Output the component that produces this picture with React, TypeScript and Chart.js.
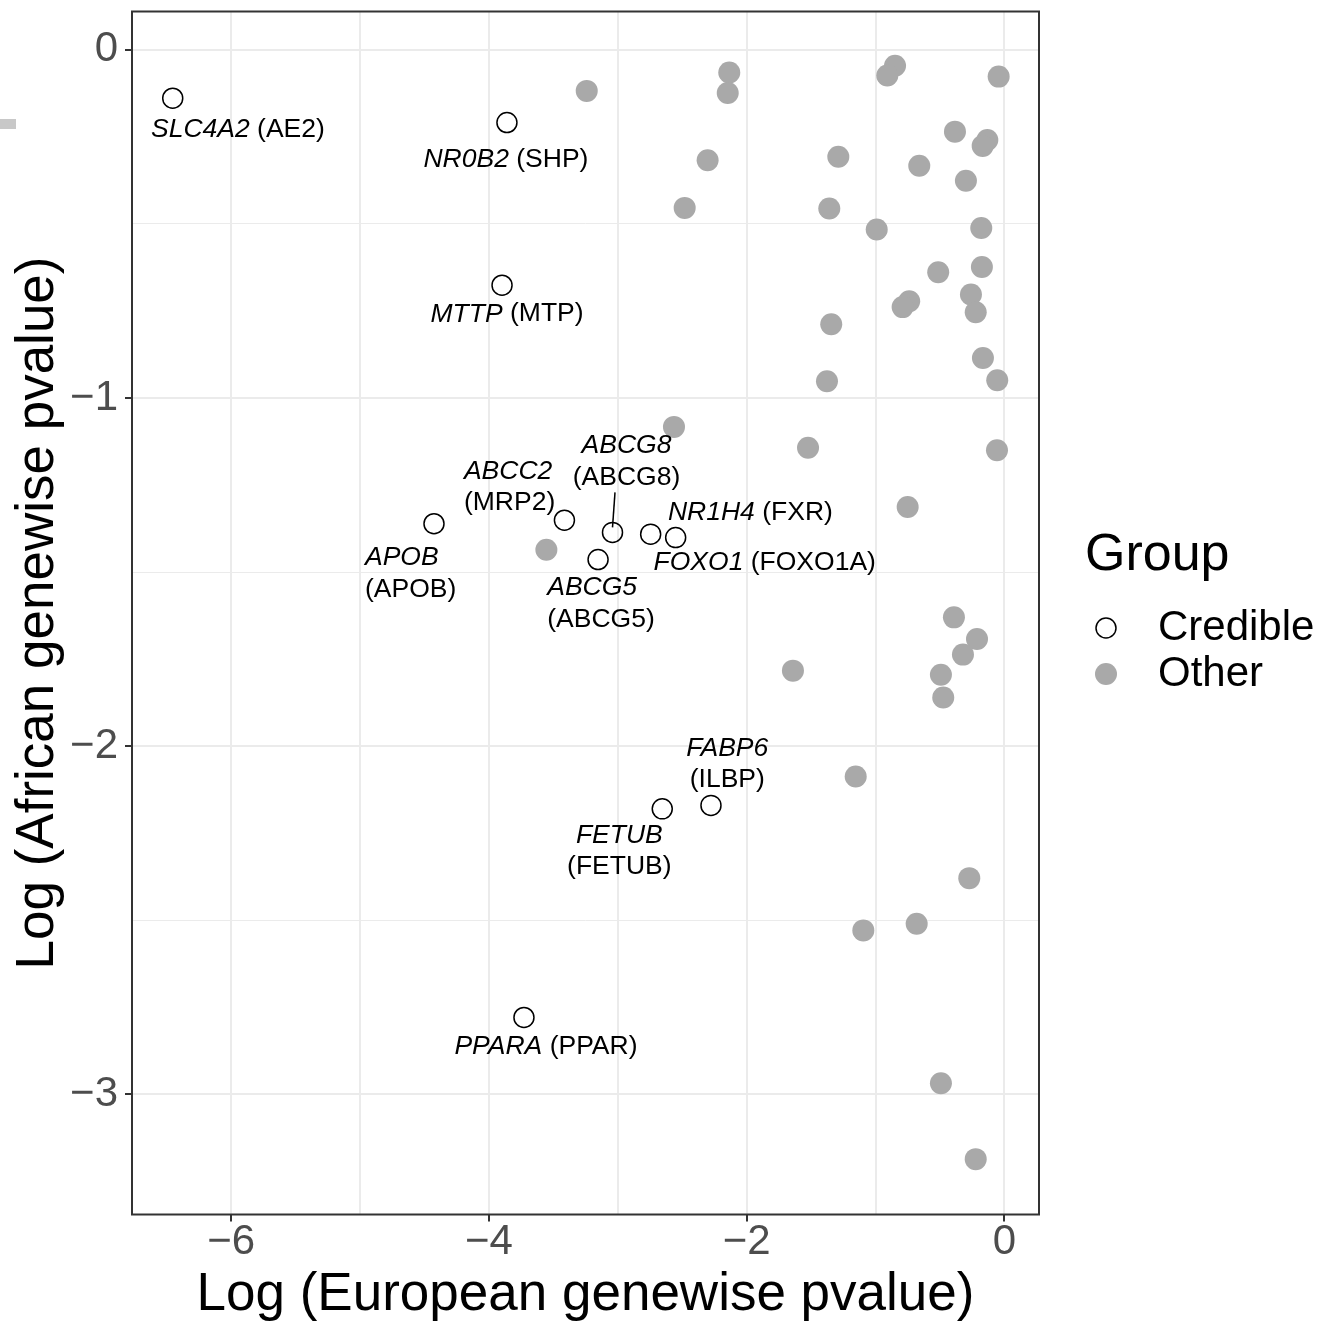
import React, { useEffect, useRef } from "react";
import { Chart, registerables } from "chart.js";

Chart.register(...registerables);

// ---------- data ----------
const credibleGenes = ["SLC4A2", "NR0B2", "MTTP", "APOB", "ABCC2", "ABCG8", "ABCG5", "FOXO1", "NR1H4", "FABP6", "FETUB", "PPARA"];
const credibleProteins = ["AE2", "SHP", "MTP", "APOB", "MRP2", "ABCG8", "ABCG5", "FOXO1A", "FXR", "ILBP", "FETUB", "PPAR"];
const credibleEuropean = [-6.453, -3.86, -3.898, -4.426, -3.414, -3.041, -3.153, -2.745, -2.551, -2.277, -2.655, -3.728];
const credibleAfrican = [-0.139, -0.209, -0.676, -1.361, -1.351, -1.386, -1.464, -1.391, -1.401, -2.17, -2.18, -2.779];

const otherEuropean = [
  -3.241, -2.135, -2.147, -2.303, -2.481, -1.289, -1.359, -0.849, -0.909, -0.045,
  -0.384, -0.133, -0.169, -0.661, -0.299, -0.991, -0.18, -0.514, -0.175, -0.739,
  -0.79, -0.26, -0.223, -1.344, -0.167, -1.377, -0.056, -2.564, -1.524, -0.058,
  -0.751, -3.554, -0.392, -0.213, -0.322, -1.641, -0.493, -0.475, -1.154, -0.273,
  -0.681, -1.095, -0.493, -0.223,
];
const otherAfrican = [
  -0.118, -0.065, -0.124, -0.317, -0.454, -0.307, -0.456, -0.046, -0.074, -0.077,
  -0.235, -0.259, -0.276, -0.333, -0.376, -0.516, -0.512, -0.639, -0.624, -0.722,
  -0.739, -0.703, -0.754, -0.788, -0.885, -0.952, -0.949, -1.083, -1.143, -1.15,
  -1.313, -1.436, -1.63, -1.692, -1.737, -1.783, -1.795, -1.86, -2.087, -2.379,
  -2.51, -2.529, -2.968, -3.186,
];

const xMajorTicks = [-6, -4, -2, 0];
const xGridValues = [-6, -5, -4, -3, -2, -1, 0];
const yMajorTicks = [0, -1, -2, -3];
const yGridValues = [0, -0.5, -1, -1.5, -2, -2.5, -3];
const xLimits = [-6.769, 0.268];
const yLimits = [-3.345, 0.11];

const legendTitle = "Group";
const groupNames = ["Credible", "Other"];
const xTitle = "Log (European genewise pvalue)";
const yTitle = "Log (African genewise pvalue)";

// ---------- label layout (pixel offsets from each point) ----------
type Lay = { dx: number; dy: number; lines: number; align: "left" | "center"; leader?: number[] };
const labelLayout: Record<string, Lay> = {
  SLC4A2: { dx: 65.2, dy: 31.5, lines: 1, align: "center" },
  NR0B2: { dx: -1, dy: 37, lines: 1, align: "center" },
  MTTP: { dx: 5, dy: 29, lines: 1, align: "center" },
  APOB: { dx: -69, dy: 34, lines: 2, align: "left" },
  ABCC2: { dx: -100.5, dy: -49, lines: 2, align: "left" },
  ABCG8: { dx: 14, dy: -86.5, lines: 2, align: "center", leader: [2.5, -40, 0, -5] },
  FOXO1: { dx: 2.9, dy: 28.4, lines: 1, align: "left" },
  NR1H4: { dx: -7.7, dy: -25, lines: 1, align: "left" },
  ABCG5: { dx: -50.8, dy: 28.2, lines: 2, align: "left" },
  FABP6: { dx: 16.3, dy: -56.7, lines: 2, align: "center" },
  FETUB: { dx: -42.9, dy: 26.7, lines: 2, align: "center" },
  PPARA: { dx: 22, dy: 29.4, lines: 1, align: "center" },
};

const FONT = '"Liberation Sans", Arial, Helvetica, sans-serif';
const GRAY = "#a9a9a9";
const CRED_R = 10;
const OTHER_R = 11;
const LABEL_SIZE = 26.5;

const isMajor = (v: number) => Math.abs(v - Math.round(v)) < 1e-9;
const fmt = (v: number) => (v < 0 ? "\u2212" + Math.abs(v) : String(v));

type Seg = { t: string; it: boolean };

function drawSegs(ctx: CanvasRenderingContext2D, segs: Seg[], x: number, y: number, align: "left" | "center", size: number) {
  let total = 0;
  const widths = segs.map((s) => {
    ctx.font = `${s.it ? "italic " : ""}${size}px ${FONT}`;
    const w = ctx.measureText(s.t).width;
    total += w;
    return w;
  });
  let cx = align === "center" ? x - total / 2 : x;
  ctx.textAlign = "left";
  ctx.textBaseline = "middle";
  segs.forEach((s, i) => {
    ctx.font = `${s.it ? "italic " : ""}${size}px ${FONT}`;
    ctx.fillText(s.t, cx, y);
    cx += widths[i];
  });
}

const decor = {
  id: "decor",
  beforeDraw(chart: any) {
    const c = chart.ctx as CanvasRenderingContext2D;
    c.save();
    c.fillStyle = "#ffffff";
    c.fillRect(0, 0, chart.width, chart.height);
    c.fillStyle = "#c8c8c8";
    c.fillRect(0, 119, 16, 10);
    c.restore();
  },
  afterDatasetsDraw(chart: any) {
    const c = chart.ctx as CanvasRenderingContext2D;
    const xs = chart.scales.x;
    const ys = chart.scales.y;
    const a = chart.chartArea;
    c.save();

    // panel border
    c.strokeStyle = "#333333";
    c.lineWidth = 2;
    c.strokeRect(a.left, a.top, a.right - a.left, a.bottom - a.top);

    // gene labels
    c.fillStyle = "#000000";
    credibleGenes.forEach((g, i) => {
      const lay = labelLayout[g];
      if (!lay) return;
      const px = xs.getPixelForValue(credibleEuropean[i]);
      const py = ys.getPixelForValue(credibleAfrican[i]);
      const prot = "(" + credibleProteins[i] + ")";
      if (lay.lines === 1) {
        drawSegs(c, [{ t: g, it: true }, { t: " " + prot, it: false }], px + lay.dx, py + lay.dy, lay.align, LABEL_SIZE);
      } else {
        drawSegs(c, [{ t: g, it: true }], px + lay.dx, py + lay.dy, lay.align, LABEL_SIZE);
        drawSegs(c, [{ t: prot, it: false }], px + lay.dx, py + lay.dy + 31.5, lay.align, LABEL_SIZE);
      }
      if (lay.leader) {
        c.strokeStyle = "#000000";
        c.lineWidth = 1.5;
        c.beginPath();
        c.moveTo(px + lay.leader[0], py + lay.leader[1]);
        c.lineTo(px + lay.leader[2], py + lay.leader[3]);
        c.stroke();
      }
    });

    // tick labels
    c.fillStyle = "#4d4d4d";
    c.font = `42px ${FONT}`;
    c.textAlign = "center";
    c.textBaseline = "middle";
    xMajorTicks.forEach((v) => {
      c.fillText(fmt(v), xs.getPixelForValue(v), a.bottom + 28);
    });
    c.textAlign = "right";
    yMajorTicks.forEach((v) => {
      c.fillText(fmt(v), a.left - 14, ys.getPixelForValue(v));
    });

    // axis titles
    c.fillStyle = "#000000";
    c.font = `53px ${FONT}`;
    c.textAlign = "center";
    c.textBaseline = "middle";
    c.fillText(xTitle, (a.left + a.right) / 2, 1295);
    c.save();
    c.translate(38, (a.top + a.bottom) / 2);
    c.rotate(-Math.PI / 2);
    c.fillText(yTitle, 0, 0);
    c.restore();

    // legend
    c.textAlign = "left";
    c.textBaseline = "alphabetic";
    c.font = `52px ${FONT}`;
    c.fillText(legendTitle, 1085, 570);
    const ly = [628, 674];
    c.beginPath();
    c.arc(1106, ly[0], CRED_R, 0, Math.PI * 2);
    c.strokeStyle = "#000000";
    c.lineWidth = 1.5;
    c.stroke();
    c.beginPath();
    c.arc(1106, ly[1], OTHER_R, 0, Math.PI * 2);
    c.fillStyle = GRAY;
    c.fill();
    c.fillStyle = "#000000";
    c.font = `42px ${FONT}`;
    c.textBaseline = "middle";
    c.fillText(groupNames[0], 1158, ly[0]);
    c.fillText(groupNames[1], 1158, ly[1]);

    c.restore();
  },
};

function gridOpts(majors: number[]) {
  return {
    color: "#ebebeb",
    lineWidth: (ctx: any) => (ctx.tick && isMajor(ctx.tick.value) ? 2 : 1),
    tickColor: (ctx: any) => (ctx.tick && majors.includes(ctx.tick.value) ? "#333333" : "rgba(0,0,0,0)"),
    tickWidth: 2,
    tickLength: 7,
    drawTicks: true,
  };
}

export default function App() {
  const ref = useRef<HTMLCanvasElement>(null);
  useEffect(() => {
    document.body.style.margin = "0";
    const canvas = ref.current;
    if (!canvas) return;
    const chart = new Chart(canvas, {
      type: "scatter",
      data: {
        datasets: [
          {
            label: groupNames[0],
            data: credibleEuropean.map((x, i) => ({ x, y: credibleAfrican[i] })),
            pointRadius: CRED_R,
            pointHoverRadius: CRED_R,
            pointBackgroundColor: "rgba(0,0,0,0)",
            pointBorderColor: "#000000",
            pointBorderWidth: 1.5,
          },
          {
            label: groupNames[1],
            data: otherEuropean.map((x, i) => ({ x, y: otherAfrican[i] })),
            pointRadius: OTHER_R,
            pointHoverRadius: OTHER_R,
            pointBackgroundColor: GRAY,
            pointBorderColor: GRAY,
            pointBorderWidth: 0,
          },
        ],
      },
      options: {
        responsive: false,
        animation: false,
        devicePixelRatio: 1,
        events: [],
        layout: { padding: { left: 0, top: 10, right: 294, bottom: 0 } },
        plugins: { legend: { display: false }, tooltip: { enabled: false } },
        scales: {
          x: {
            type: "linear",
            min: xLimits[0],
            max: xLimits[1],
            afterBuildTicks: (s: any) => {
              s.ticks = xGridValues.map((v) => ({ value: v }));
            },
            afterFit: (s: any) => {
              s.height = 112.5;
            },
            ticks: { display: false },
            grid: gridOpts(xMajorTicks) as any,
            border: { display: false },
          },
          y: {
            type: "linear",
            min: yLimits[0],
            max: yLimits[1],
            afterBuildTicks: (s: any) => {
              s.ticks = yGridValues.map((v) => ({ value: v }));
            },
            afterFit: (s: any) => {
              s.width = 132;
            },
            ticks: { display: false },
            grid: gridOpts(yMajorTicks) as any,
            border: { display: false },
          },
        },
      },
      plugins: [decor as any],
    });
    return () => chart.destroy();
  }, []);
  return <canvas ref={ref} width={1333} height={1327} style={{ display: "block" }} />;
}
